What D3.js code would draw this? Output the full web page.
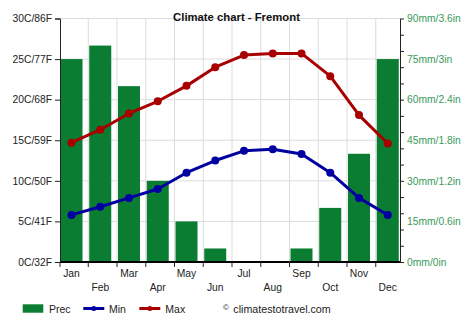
<!DOCTYPE html>
<html><head><meta charset="utf-8">
<script src="https://cdn.jsdelivr.net/npm/d3@7"></script>
<style>
html,body{margin:0;padding:0;background:#fff;}
svg{display:block;font-family:"Liberation Sans",Arial,sans-serif;}
</style></head>
<body><svg id="c" width="474" height="331"></svg>
<script>
const months = ["Jan","Feb","Mar","Apr","May","Jun","Jul","Aug","Sep","Oct","Nov","Dec"];
const prec = [75,80,65,30,15,5,0,0,5,20,40,75];
const tmin = [5.8,6.8,7.9,9.0,11.0,12.5,13.7,13.9,13.3,11.0,7.9,5.8];
const tmax = [14.7,16.3,18.3,19.8,21.7,24.0,25.5,25.7,25.7,22.9,18.1,14.6];
const tempTicks = [0,5,10,15,20,25,30];
const tempLabels = ["0C/32F","5C/41F","10C/50F","15C/59F","20C/68F","25C/77F","30C/86F"];
const precTicks = [0,15,30,45,60,75,90];
const precLabels = ["0mm/0in","15mm/0.6in","30mm/1.2in","45mm/1.8in","60mm/2.4in","75mm/3in","90mm/3.6in"];
const precMinor = d3.range(0,91,6);

const svg = d3.select("#c");
const L = 60, R = 400, T = 18.5, B = 262;
const x = d3.scaleBand().domain(months).range([59.5, 404.5]).padding(0);
const yT = d3.scaleLinear().domain([0,30]).range([B,T]);
const yP = d3.scaleLinear().domain([0,90]).range([B,T]);
const cx = m => x(m) + 12;

const GREEN = "#0a7d32", BLUE = "#0000a0", RED = "#a80000", TXT = "#222";

// grid
svg.append("g").selectAll("line").data(tempTicks.slice(1)).join("line")
  .attr("x1",L).attr("x2",R).attr("y1",d=>yT(d)).attr("y2",d=>yT(d))
  .attr("stroke","#dcdcdc").attr("stroke-width",1);
svg.append("g").selectAll("line").data(months.slice(1)).join("line")
  .attr("x1",d=>x(d)).attr("x2",d=>x(d)).attr("y1",T).attr("y2",B)
  .attr("stroke","#dcdcdc").attr("stroke-width",1);

// bars
svg.append("g").selectAll("rect").data(months).join("rect")
  .attr("x",d=>x(d)+1).attr("width",22)
  .attr("y",(d,i)=>yP(prec[i])).attr("height",(d,i)=>B-yP(prec[i]))
  .attr("fill",GREEN);

// left axis
const gl = svg.append("g").attr("transform",`translate(${L},0)`)
  .call(d3.axisLeft(yT).tickValues(tempTicks).tickFormat((d,i)=>tempLabels[i]).tickSize(5).tickPadding(3));
gl.selectAll("text").attr("font-size","10.3px").attr("fill",TXT).attr("font-family","Liberation Sans, Arial, sans-serif");
gl.selectAll("line,path").attr("stroke","#222");

// right axis
const gr = svg.append("g").attr("transform",`translate(${R},0)`);
gr.call(d3.axisRight(yP).tickValues(precMinor).tickFormat("").tickSize(4).tickSizeOuter(0));
gr.selectAll("line,path").attr("stroke","#222");
const grl = svg.append("g").attr("transform",`translate(${R},0)`)
  .call(d3.axisRight(yP).tickValues(precTicks).tickFormat((d,i)=>precLabels[i]).tickSize(0).tickPadding(7));
grl.select("path").remove();
grl.selectAll("text").attr("font-size","10.3px").attr("fill","#3a9a5a").attr("font-family","Liberation Sans, Arial, sans-serif");

// bottom axis
svg.append("line").attr("x1",L).attr("x2",R).attr("y1",B).attr("y2",B).attr("stroke","#000").attr("stroke-width",2);
svg.append("g").selectAll("line").data(months).join("line")
  .attr("x1",d=>x(d)===59.5?L:x(d)).attr("x2",d=>x(d)===59.5?L:x(d)).attr("y1",B).attr("y2",B+5)
  .attr("stroke","#222");
svg.append("g").selectAll("text").data(months).join("text")
  .attr("x",d=>cx(d)).attr("y",(d,i)=> i%2===0 ? 276.5 : 291)
  .attr("text-anchor","middle").attr("font-size","10.3px").attr("fill",TXT).text(d=>d);

// lines
const line = arr => d3.line().x((d,i)=>cx(months[i])).y(d=>yT(d))(arr);
[[tmax,RED],[tmin,BLUE]].forEach(([arr,col])=>{
  svg.append("path").attr("d",line(arr)).attr("fill","none").attr("stroke",col).attr("stroke-width",3).attr("stroke-linejoin","round");
  svg.append("g").selectAll("circle").data(arr).join("circle")
    .attr("cx",(d,i)=>cx(months[i])).attr("cy",d=>yT(d)).attr("r",4).attr("fill",col);
});

// title
svg.append("text").attr("x",236.5).attr("y",21).attr("text-anchor","middle")
  .attr("font-size","11.3px").attr("font-weight","bold").attr("fill","#111").text("Climate chart - Fremont");

// legend
const ly = 308.5;
svg.append("rect").attr("x",22.7).attr("y",ly-4.2).attr("width",20.6).attr("height",8.4).attr("fill",GREEN);
svg.append("text").attr("x",49).attr("y",ly+4).attr("font-size","10.5px").attr("fill",TXT).text("Prec");
[[83.3,BLUE,"Min",109],[139.3,RED,"Max",165.3]].forEach(([lx,col,lab,tx])=>{
  svg.append("line").attr("x1",lx).attr("x2",lx+21).attr("y1",ly).attr("y2",ly).attr("stroke",col).attr("stroke-width",3);
  svg.append("circle").attr("cx",lx+10.5).attr("cy",ly).attr("r",2.5).attr("fill",col);
  svg.append("text").attr("x",tx).attr("y",ly+4).attr("font-size","10.5px").attr("fill",TXT).text(lab);
});
svg.append("text").attr("x",223).attr("y",ly+1).attr("font-size","8px").attr("fill",TXT).text("©");
svg.append("text").attr("x",233.3).attr("y",ly+4).attr("font-size","10.7px").attr("fill",TXT).text("climatestotravel.com");
</script></body></html>
